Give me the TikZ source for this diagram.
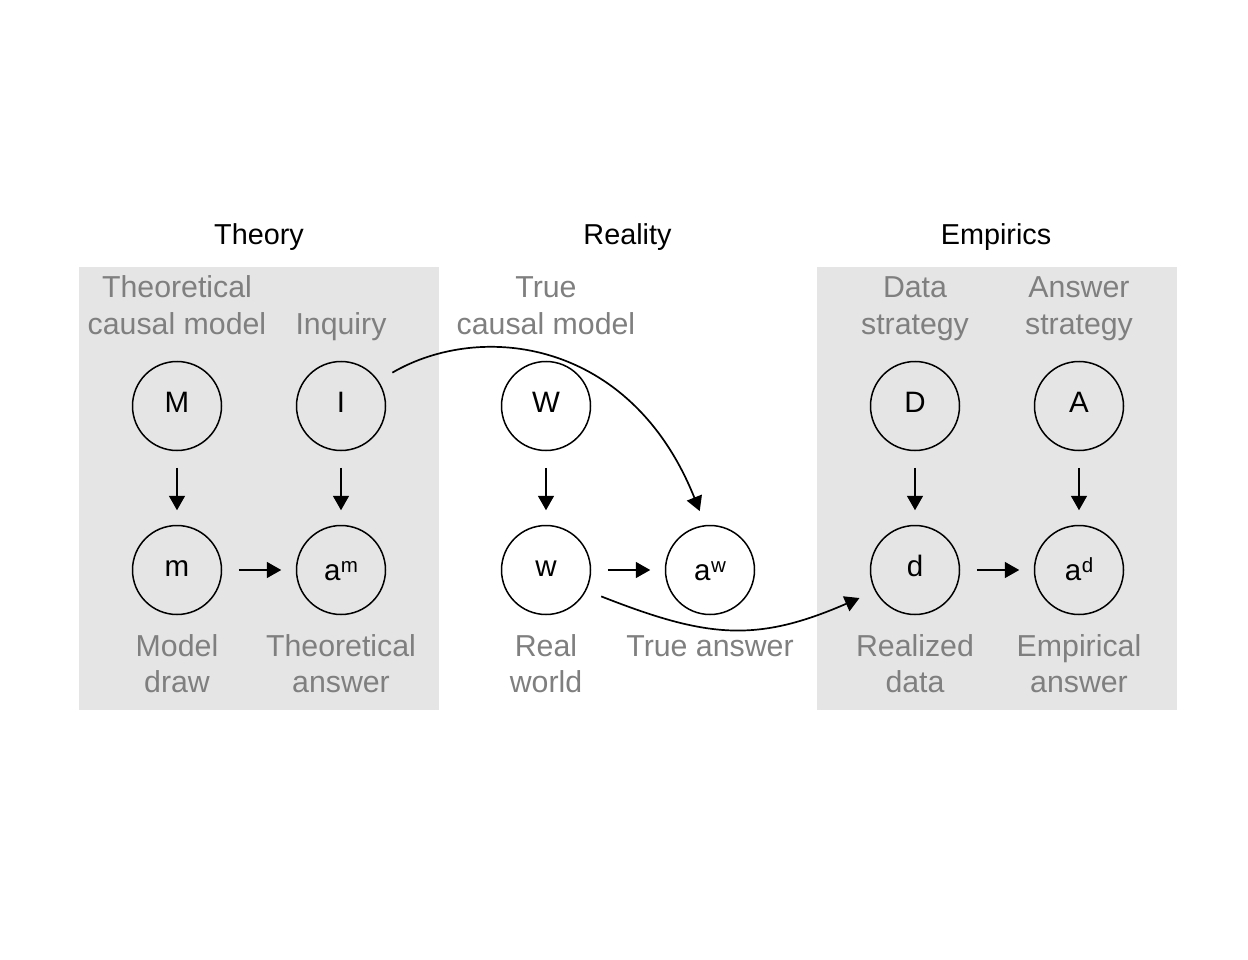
\documentclass[tikz,border=0pt]{standalone}
\usepackage{fontspec}
\setmainfont{Liberation Sans}
\usetikzlibrary{arrows.meta}
\definecolor{panel}{HTML}{E5E5E5}
\definecolor{lab}{HTML}{7F7F7F}
\newcommand\twoline[2]{\begin{tabular}[t]{@{}c@{}}#1\\#2\end{tabular}}
\newcommand\supr[1]{\kern0.5pt\raisebox{7.5pt}{\fontsize{20.5}{20}\selectfont #1}}
\begin{document}
\begin{tikzpicture}[x=1pt,y=-1pt,
  ttl/.style={anchor=base, inner sep=0pt, font=\fontsize{28.8}{30}\selectfont},
  lbl/.style={anchor=base, inner sep=0pt, text=lab, font=\fontsize{30.3}{36}\selectfont},
  nd/.style={circle, draw, line width=1.5pt, minimum size=89pt, inner sep=0pt,
             font=\fontsize{29.5}{30}\selectfont, text height=13.5pt, text depth=0pt},
  ndsup/.style={nd, text height=20pt},
  arr/.style={-{Triangle[length=14.5pt,width=16pt]}, line width=1.7pt},
  vert/.style={arr, shorten <=16.5pt, shorten >=14.5pt}]
\useasboundingbox (0,0) rectangle (1248,960);
\fill[panel] (79,267) rectangle (439,710);
\fill[panel] (817,267) rectangle (1177,710);
% titles
\node[ttl] (tTheory) at (259,244) {Theory};
\node[ttl] (tReality) at (627.5,244) {Reality};
\node[ttl] (tEmp) at (996,244) {Empirics};
% top labels
\node[lbl] (lM) at (177,298) {\twoline{Theoretical}{causal model}};
\node[lbl] (lI) at (341,334) {Inquiry};
\node[lbl] (lW) at (546,298) {\twoline{True}{causal model}};
\node[lbl] (lD) at (915,298) {\twoline{Data}{strategy}};
\node[lbl] (lA) at (1079,298) {\twoline{Answer}{strategy}};
% bottom labels
\node[lbl] (lm) at (177,656) {\twoline{Model}{draw}};
\node[lbl] (lam) at (341,656) {\twoline{Theoretical}{answer}};
\node[lbl] (lw) at (546,656) {\twoline{Real}{world}};
\node[lbl] (law) at (710,656) {True answer};
\node[lbl] (ld) at (915,656) {\twoline{Realized}{data}};
\node[lbl] (lad) at (1079,656) {\twoline{Empirical}{answer}};
% nodes
\node[nd] (M) at (177,406) {M};
\node[nd] (I) at (341,406) {I};
\node[nd] (W) at (546,406) {W};
\node[nd] (D) at (915,406) {D};
\node[nd] (A) at (1079,406) {A};
\node[nd] (m) at (177,570) {m};
\node[ndsup] (am) at (341,570) {a\supr{m}};
\node[nd] (w) at (546,570) {w};
\node[ndsup] (aw) at (710,570) {a\supr{w}};
\node[nd] (d) at (915,570) {d};
\node[ndsup] (ad) at (1079,570) {a\supr{d}};
% arrows
\draw[vert] (M) -- (m);
\draw[vert] (I) -- (am);
\draw[vert] (W) -- (w);
\draw[vert] (D) -- (d);
\draw[vert] (A) -- (ad);
\draw[vert] (m) -- (am);
\draw[vert] (w) -- (aw);
\draw[vert] (d) -- (ad);
\draw[arr, shorten <=16pt, shorten >=15pt] (I.34) .. controls (481,321) and (631,339) .. (aw.96);
\draw[arr, shorten <=16pt, shorten >=17pt] (w.-27) .. controls (707,638) and (756,643) .. (d.-152);
\end{tikzpicture}
\end{document}
